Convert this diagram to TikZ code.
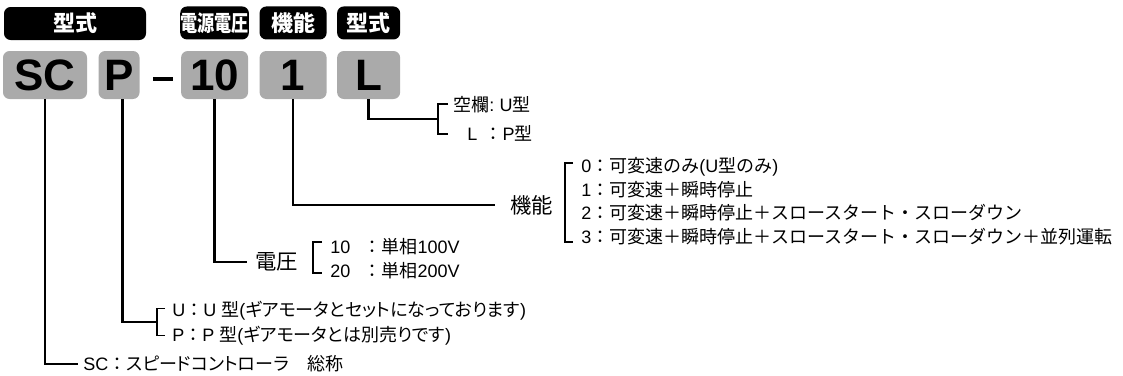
\documentclass[tikz,border=0pt]{standalone}
\usepackage{fontspec}
\setmainfont{Liberation Sans}
\newfontfamily\jp{Noto Sans CJK JP}
\newfontfamily\jpp{Noto Sans CJK JP}[RawFeature=+palt]
\usetikzlibrary{positioning,calc}
\definecolor{boxgray}{RGB}{170,170,170}
\newcommand{\ja}[1]{{\jp #1}}
\newcommand{\jap}[1]{{\jpp #1}}

\begin{document}
\begin{tikzpicture}[x=0.75pt, y=-0.75pt,
    code box/.style={fill=boxgray, rounded corners=5pt, minimum height=36pt, inner sep=0pt, font=\fontsize{33}{33}\selectfont\bfseries},
    head box/.style={fill=black, text=white, rounded corners=5pt, minimum height=24.75pt, inner sep=0pt, font=\fontsize{16.5}{17}\selectfont\jp\bfseries},
    note/.style={anchor=west, inner xsep=4pt, inner ysep=0pt, font=\fontsize{13.5}{15}\selectfont},
    label/.style={anchor=west, inner ysep=0pt, font=\fontsize{16}{18}\selectfont\jp},
    lead/.style={line width=2pt},
    brace/.style={line width=1.4pt}]
    \useasboundingbox (0,0) rectangle (1123,375);

    % code boxes
    \node[code box, minimum width=63pt] (SC) at (45,75) {SC};
    \node[code box, minimum width=30.75pt, right=8.25pt of SC] (P) {P};
    \node[fill=black, minimum width=15pt, minimum height=2.3pt, inner sep=0pt, right=9.75pt of P, yshift=-3pt] (dash) {};
    \node[code box, minimum width=50.25pt, right=30.75pt of P] (V) {10};
    \node[code box, minimum width=50.25pt, right=8.25pt of V] (F) {1};
    \node[code box, minimum width=47.25pt, right=7.5pt of F] (L) {L};

    % headers
    \node[head box, minimum width=106.5pt] (hType) at (75,23.5) {型式};
    \node[head box, minimum width=51pt, above=8.25pt of V] (hVolt) {\scalebox{0.78}[1]{電源電圧}};
    \node[head box, minimum width=50.25pt, above=8.25pt of F] (hFunc) {機能};
    \node[head box, minimum width=47.25pt, above=8.25pt of L] (hType2) {型式};

    % notes
    \node[note] (l1) at (447.7,105) {\ja{空欄}:\hspace{4pt}U\ja{型}};
    \node[note] (l2) at (461.7,133) {L\hspace{5.5pt}\ja{：}P\ja{型}};

    \node[label, inner xsep=11.25pt] (flabel) at (495,205) {機能};
    \node[note] (f0) at (575.7,167) {0\ja{：可変速のみ}(U\ja{型のみ})};
    \node[note] (f1) at (575.7,190) {1\ja{：可変速＋瞬時停止}};
    \node[note] (f2) at (575.7,213) {2\ja{：可変速＋瞬時停止＋スロースタート・スローダウン}};
    \node[note] (f3) at (575.7,237) {3\ja{：可変速＋瞬時停止＋スロースタート・スローダウン＋並列運転}};

    \node[label, inner xsep=6pt] (vlabel) at (247,262) {電圧};
    \node[note] (v1) at (324.7,247) {10\hspace{10pt}\ja{：単相}100V};
    \node[note] (v2) at (324.7,271) {20\hspace{10pt}\ja{：単相}200V};

    \node[note] (u1) at (166.7,311) {U\ja{：}U\ \ja{型}(\jap{ギアモータとセットになっております})};
    \node[note] (u2) at (166.7,336) {P\ja{：}P\ \ja{型}(\jap{ギアモータとは別売りです})};

    \node[note] (scnote) at (77.7,364) {SC\ja{：}\jap{スピードコントローラ}\ja{　総称}};

    % brackets
    \coordinate (ljoin) at (438,119);
    \coordinate (ujoin) at (157,322);
    \coordinate (vbr) at (313,257.5);
    \coordinate (fbr) at (565,202.5);
    \draw[brace] ($(ljoin)+(10,-15)$) -| ($(ljoin)+(0,15)$) -- ++(10,0);
    \draw[brace] ($(ujoin)+(8,-13.5)$) -| ($(ujoin)+(0,13.5)$) -- ++(8,0);
    \draw[brace] ($(vbr)+(9,-15.5)$) -| ($(vbr)+(0,15.5)$) -- ++(9,0);
    \draw[brace] ($(fbr)+(8,-39.5)$) -| ($(fbr)+(0,39.5)$) -- ++(8,0);

    % leads
    \draw[lead] (SC.south) |- (scnote.west);
    \draw[lead] ([xshift=2.5pt]P.south) |- (ujoin);
    \draw[lead] (V.south) |- (vlabel.west);
    \draw[lead] (F.south) |- (flabel.west);
    \draw[lead] (L.south) |- (ljoin);
\end{tikzpicture}
\end{document}
